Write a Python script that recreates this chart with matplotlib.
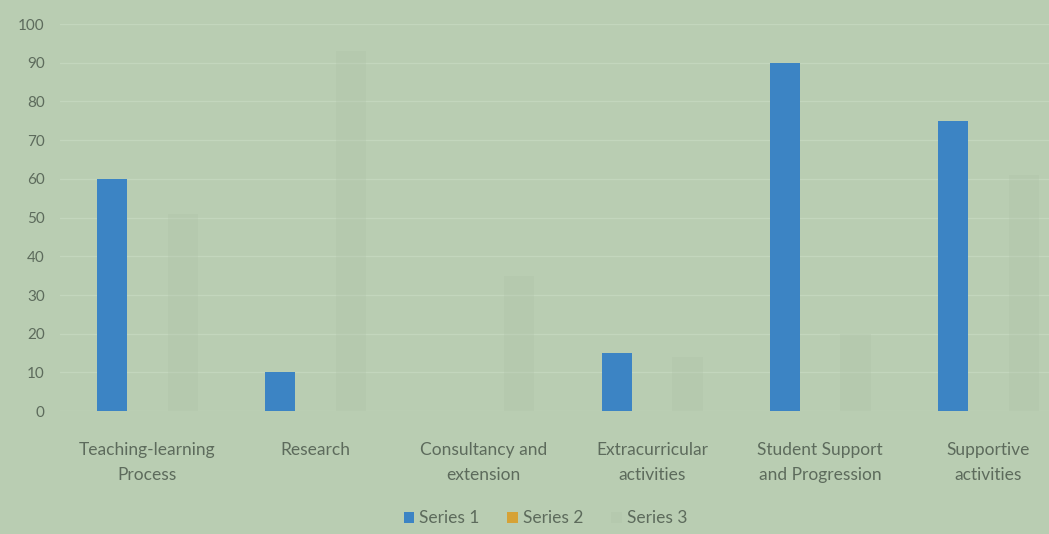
import matplotlib.pyplot as plt
import numpy as np

# Datos
categorias = ['Teaching-learning\nProcess', 'Research', 'Consultancy and\nextension',
              'Extracurricular\nactivities', 'Student Support\nand Progression', 'Supportive\nactivities']
serie1 = [60, 10, 0, 15, 90, 75]
serie2 = [0, 0, 0, 0, 0, 0]
serie3 = [51, 93, 35, 14, 20, 61]   # barras casi invisibles en la foto
yticks = [0, 10, 20, 30, 40, 50, 60, 70, 80, 90, 100]

fondo = '#b9cdb2'
texto = '#5d6b5c'

plt.rcParams['font.family'] = ['Lato', 'DejaVu Sans']

fig = plt.figure(figsize=(10.49, 5.34), dpi=100)
fig.patch.set_facecolor(fondo)
ax = fig.add_axes([60 / 1049, 0.230, 1 - 60 / 1049, 0.725])
ax.set_facecolor(fondo)

x = np.arange(len(categorias))
ancho = 0.18
ax.bar(x - 0.21, serie1, ancho, color='#3c84c4', label='Series 1', zorder=3)
ax.bar(x, serie2, ancho, color='#d6a236', label='Series 2', zorder=3)
ax.bar(x + 0.21, serie3, ancho, color='#b0c4a9', alpha=0.35, label='Series 3', zorder=2)

ax.set_xlim(-0.52, 5.36)
ax.set_ylim(0, 100)
ax.set_yticks(yticks)
ax.yaxis.grid(True, color='#c3d6bd', linewidth=0.9, zorder=0)
ax.set_xticks(x)
ax.set_xticklabels(categorias, fontsize=12.5, color=texto, linespacing=1.75)
ax.tick_params(axis='y', labelsize=11, labelcolor=texto, length=0, pad=11)
ax.tick_params(axis='x', length=0, pad=22)
for lado in ['top', 'right', 'left', 'bottom']:
    ax.spines[lado].set_visible(False)

fig.legend(loc='lower center', bbox_to_anchor=(0.52, -0.015), ncol=3, frameon=False,
           fontsize=12.5, labelcolor=texto, handlelength=0.6, handleheight=0.6,
           handletextpad=0.3, columnspacing=1.6)

fig.savefig('out.png', dpi=100, facecolor=fondo)
